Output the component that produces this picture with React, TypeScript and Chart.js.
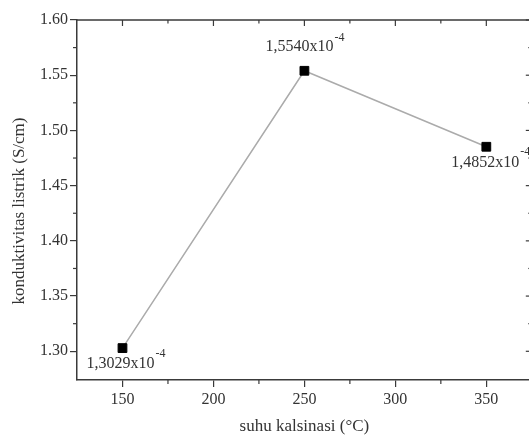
import React, { useEffect, useRef } from "react";
import { Chart, registerables } from "chart.js";

Chart.register(...registerables);

// ---- data ----
const temperatures = [150, 250, 350];
const conductivity = [1.3029, 1.554, 1.4852];
const pointLabelTexts = ["1,3029x10", "1,5540x10", "1,4852x10"];
const pointLabelExponent = "-4";
const xTickValues = [150, 200, 250, 300, 350];
const xMinorValues = [175, 225, 275, 325];
const yTickValues = [1.3, 1.35, 1.4, 1.45, 1.5, 1.55, 1.6];
const yMinorValues = [1.325, 1.375, 1.425, 1.475, 1.525, 1.575];
const xTitle = "suhu kalsinasi (°C)";
const yTitle = "konduktivitas listrik (S/cm)";

// ---- style ----
const FONT = "'Liberation Serif', 'Times New Roman', serif";
const AXIS = "#3a3a3a";
const TEXT = "#333333";
const LINE = "#ababab";
// label placement relative to point: [dx of text start, dy of text centre, superscript rise]
const labelOffsets: [number, number, number][] = [
  [-36, 16, 10],
  [-39, -24, 9],
  [-35, 16, 11],
];

const decorPlugin = {
  id: "decor",
  afterDraw(chart: any) {
    const { ctx, chartArea: ca, scales } = chart;
    const x = scales.x;
    const y = scales.y;
    ctx.save();
    ctx.strokeStyle = AXIS;
    ctx.lineWidth = 1.5;
    ctx.beginPath();
    ctx.moveTo(ca.left, ca.top);
    ctx.lineTo(ca.right, ca.top);
    ctx.lineTo(ca.right, ca.bottom);
    ctx.stroke();

    ctx.lineWidth = 1.2;
    const seg = (x1: number, y1: number, x2: number, y2: number) => {
      ctx.beginPath();
      ctx.moveTo(x1, y1);
      ctx.lineTo(x2, y2);
      ctx.stroke();
    };
    xTickValues.forEach((v) => {
      const px = x.getPixelForValue(v);
      seg(px, ca.top, px, ca.top + 6);
    });
    xMinorValues.forEach((v) => {
      const px = x.getPixelForValue(v);
      seg(px, ca.top, px, ca.top + 3.5);
      seg(px, ca.bottom, px, ca.bottom + 4);
    });
    yTickValues.forEach((v) => {
      const py = y.getPixelForValue(v);
      seg(ca.right, py, ca.right - 6, py);
    });
    yMinorValues.forEach((v) => {
      const py = y.getPixelForValue(v);
      seg(ca.left - 4, py, ca.left, py);
      seg(ca.right, py, ca.right - 3.5, py);
    });

    // y axis title
    ctx.fillStyle = TEXT;
    ctx.font = `17px ${FONT}`;
    ctx.textAlign = "center";
    ctx.textBaseline = "middle";
    ctx.translate(20, (ca.top + ca.bottom) / 2 + 11);
    ctx.rotate(-Math.PI / 2);
    ctx.fillText(yTitle, 0, 0);
    ctx.restore();

    // point labels
    const meta = chart.getDatasetMeta(0);
    ctx.save();
    ctx.fillStyle = TEXT;
    ctx.textAlign = "left";
    ctx.textBaseline = "middle";
    meta.data.forEach((pt: any, i: number) => {
      const [dx, dy, rise] = labelOffsets[i];
      ctx.font = `16px ${FONT}`;
      const tx = pt.x + dx;
      const ty = pt.y + dy;
      ctx.fillText(pointLabelTexts[i], tx, ty);
      const w = ctx.measureText(pointLabelTexts[i]).width;
      ctx.font = `12px ${FONT}`;
      ctx.fillText(pointLabelExponent, tx + w + 1, ty - rise);
    });
    ctx.restore();
  },
};

export default function App() {
  const ref = useRef<HTMLCanvasElement | null>(null);

  useEffect(() => {
    if (!ref.current) return;
    const chart = new Chart(ref.current, {
      type: "line",
      data: {
        datasets: [
          {
            data: temperatures.map((t, i) => ({ x: t, y: conductivity[i] })),
            borderColor: LINE,
            borderWidth: 1.5,
            pointStyle: "rect",
            pointRadius: 6.2,
            pointBackgroundColor: "#000",
            pointBorderColor: "#000",
            pointBorderWidth: 1,
            clip: false as any,
          },
        ],
      },
      options: {
        animation: false,
        responsive: false,
        events: [],
        layout: { padding: { top: 20, left: 0, right: 0, bottom: 0 } },
        plugins: {
          legend: { display: false },
          tooltip: { enabled: false },
        },
        scales: {
          x: {
            type: "linear",
            min: 125,
            max: 375,
            afterBuildTicks: (s: any) => {
              s.ticks = xTickValues.map((v) => ({ value: v }));
            },
            afterFit: (s: any) => {
              s.height = 55;
              s.paddingRight = 0;
            },
            grid: {
              drawOnChartArea: false,
              drawTicks: true,
              tickLength: 7,
              color: AXIS,
              lineWidth: 1.2,
            },
            border: { display: true, color: AXIS, width: 1.5 },
            ticks: {
              color: TEXT,
              font: { family: FONT, size: 16 },
              padding: 3,
              maxRotation: 0,
              callback: (v: any) => String(v),
            },
            title: {
              display: true,
              text: xTitle,
              color: TEXT,
              font: { family: FONT, size: 17, lineHeight: 1 },
              padding: 0,
            },
          },
          y: {
            type: "linear",
            min: 1.274,
            max: 1.6,
            afterBuildTicks: (s: any) => {
              s.ticks = yTickValues.map((v) => ({ value: v }));
            },
            afterFit: (s: any) => {
              s.width = 77;
            },
            grid: {
              drawOnChartArea: false,
              drawTicks: true,
              tickLength: 7,
              color: AXIS,
              lineWidth: 1.2,
            },
            border: { display: true, color: AXIS, width: 1.5 },
            ticks: {
              color: TEXT,
              font: { family: FONT, size: 16 },
              padding: 2,
              callback: (v: any) => Number(v).toFixed(2),
            },
          },
        },
      },
      plugins: [decorPlugin],
    } as any);
    return () => chart.destroy();
  }, []);

  return (
    <div
      style={{
        position: "absolute",
        left: 0,
        top: 0,
        width: 529,
        height: 435,
        overflow: "hidden",
        background: "#fff",
      }}
    >
      <canvas ref={ref} width={539} height={435} style={{ display: "block" }} />
    </div>
  );
}
